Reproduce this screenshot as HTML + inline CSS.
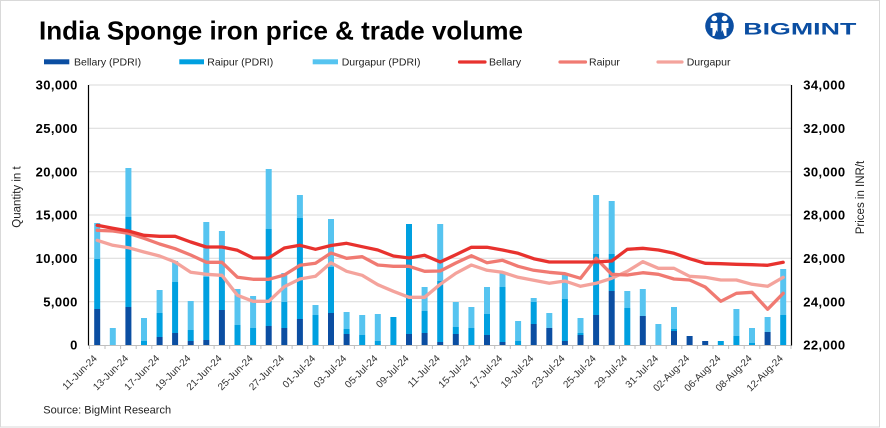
<!DOCTYPE html>
<html><head><meta charset="utf-8"><style>
html,body{margin:0;padding:0;background:#fff;}
body{width:886px;height:428px;overflow:hidden;position:relative;}
svg{position:absolute;left:0;top:0;}
</style></head><body>
<svg width="886" height="428" viewBox="0 0 886 428" xmlns="http://www.w3.org/2000/svg" font-family="'Liberation Sans', Arial, sans-serif">
<rect x="0" y="0" width="886" height="428" fill="#fff"/>
<rect x="0.5" y="0.5" width="879" height="426.5" fill="none" stroke="#d9d9d9" stroke-width="1"/>

<!-- Title -->
<text x="39" y="39.5" font-size="26" font-weight="bold" fill="#000">India Sponge iron price &amp; trade volume</text>

<!-- Logo -->
<ellipse cx="719.5" cy="26" rx="14.3" ry="13.5" fill="#0b4ea2"/>
<circle cx="714.3" cy="18.5" r="2.9" fill="#fff"/>
<circle cx="724.7" cy="18.5" r="2.9" fill="#fff"/>
<path d="M710.5,23 h7 v9 l2,4 l2,-4 v-9 h7 v5 l-2,0 v8 h-2 l-2,-6 l-3,6 l-3,-6 l-2,6 h-2 v-8 l-2,0 z" fill="#fff"/>
<text x="743.3" y="34.5" font-size="16.3" font-weight="bold" fill="#0b4ea2" textLength="113" lengthAdjust="spacingAndGlyphs">BIGMINT</text>

<!-- Legend -->
<g font-size="10.5" fill="#222">
<rect x="44" y="59.3" width="25.3" height="5" fill="#0b4ea2"/>
<text x="74" y="65.5">Bellary (PDRI)</text>
<rect x="179.3" y="59.3" width="24.7" height="5" fill="#00a0e0"/>
<text x="207.3" y="65.5">Raipur (PDRI)</text>
<rect x="312.7" y="59.3" width="25.3" height="5" fill="#56c4f0"/>
<text x="341.7" y="65.5">Durgapur (PDRI)</text>
<line x1="459.5" y1="62" x2="485" y2="62" stroke="#e8322e" stroke-width="3.2" stroke-linecap="round"/>
<text x="489" y="65.5">Bellary</text>
<line x1="560" y1="62" x2="585.5" y2="62" stroke="#f07a72" stroke-width="3.2" stroke-linecap="round"/>
<text x="589" y="65.5">Raipur</text>
<line x1="658" y1="62" x2="682" y2="62" stroke="#f4a39c" stroke-width="3.2" stroke-linecap="round"/>
<text x="686.7" y="65.5">Durgapur</text>
</g>

<!-- Gridlines -->
<g stroke="#d9d9d9" stroke-width="1">
<line x1="89" y1="85" x2="791" y2="85"/>
<line x1="89" y1="128.3" x2="791" y2="128.3"/>
<line x1="89" y1="171.7" x2="791" y2="171.7"/>
<line x1="89" y1="215" x2="791" y2="215"/>
<line x1="89" y1="258.3" x2="791" y2="258.3"/>
<line x1="89" y1="301.7" x2="791" y2="301.7"/>
</g>

<!-- Bars -->
<g>
<g fill="#56c4f0">
<rect x="94.2" y="223" width="6" height="36"/>
<rect x="109.8" y="328" width="6" height="17"/>
<rect x="125.4" y="168" width="6" height="49"/>
<rect x="141.0" y="318" width="6" height="23"/>
<rect x="156.6" y="290" width="6" height="23"/>
<rect x="172.1" y="261" width="6" height="21"/>
<rect x="187.7" y="301" width="6" height="29"/>
<rect x="203.3" y="222" width="6" height="55"/>
<rect x="218.9" y="231" width="6" height="46"/>
<rect x="234.5" y="289" width="6" height="36"/>
<rect x="250.1" y="296" width="6" height="32"/>
<rect x="265.7" y="169" width="6" height="60"/>
<rect x="281.3" y="273" width="6" height="29"/>
<rect x="296.9" y="195" width="6" height="23"/>
<rect x="312.5" y="305" width="6" height="10"/>
<rect x="328.0" y="219" width="6" height="48"/>
<rect x="343.6" y="312" width="6" height="17"/>
<rect x="359.2" y="315" width="6" height="20"/>
<rect x="374.8" y="314" width="6" height="27"/>
<rect x="421.6" y="287" width="6" height="24"/>
<rect x="437.2" y="224" width="6" height="57"/>
<rect x="452.8" y="302" width="6" height="25"/>
<rect x="468.4" y="307" width="6" height="21"/>
<rect x="484.0" y="287" width="6" height="27"/>
<rect x="499.5" y="273" width="6" height="14"/>
<rect x="515.1" y="321" width="6" height="20"/>
<rect x="530.7" y="298" width="6" height="4"/>
<rect x="546.3" y="313" width="6" height="15"/>
<rect x="561.9" y="275" width="6" height="24"/>
<rect x="577.5" y="318" width="6" height="15"/>
<rect x="593.1" y="195" width="6" height="59"/>
<rect x="608.7" y="201" width="6" height="53"/>
<rect x="624.3" y="291" width="6" height="17"/>
<rect x="639.8" y="289" width="6" height="27"/>
<rect x="655.4" y="324" width="6" height="21"/>
<rect x="671.0" y="307" width="6" height="22"/>
<rect x="733.4" y="309" width="6" height="27"/>
<rect x="749.0" y="328" width="6" height="15"/>
<rect x="764.6" y="317" width="6" height="15"/>
<rect x="780.2" y="269" width="6" height="46"/>
</g>
<g fill="#00a0e0">
<rect x="94.2" y="259" width="6" height="50"/>
<rect x="125.4" y="217" width="6" height="90"/>
<rect x="141.0" y="341" width="6" height="4"/>
<rect x="156.6" y="313" width="6" height="24"/>
<rect x="172.1" y="282" width="6" height="51"/>
<rect x="187.7" y="330" width="6" height="11"/>
<rect x="203.3" y="277" width="6" height="63"/>
<rect x="218.9" y="277" width="6" height="33"/>
<rect x="234.5" y="325" width="6" height="20"/>
<rect x="250.1" y="328" width="6" height="17"/>
<rect x="265.7" y="229" width="6" height="97"/>
<rect x="281.3" y="302" width="6" height="26"/>
<rect x="296.9" y="218" width="6" height="101"/>
<rect x="312.5" y="315" width="6" height="30"/>
<rect x="328.0" y="267" width="6" height="46"/>
<rect x="343.6" y="329" width="6" height="5"/>
<rect x="359.2" y="335" width="6" height="10"/>
<rect x="374.8" y="341" width="6" height="4"/>
<rect x="390.4" y="317" width="6" height="28"/>
<rect x="406.0" y="224" width="6" height="110"/>
<rect x="421.6" y="311" width="6" height="22"/>
<rect x="437.2" y="281" width="6" height="61"/>
<rect x="452.8" y="327" width="6" height="7"/>
<rect x="468.4" y="328" width="6" height="17"/>
<rect x="484.0" y="314" width="6" height="21"/>
<rect x="499.5" y="287" width="6" height="55"/>
<rect x="515.1" y="341" width="6" height="4"/>
<rect x="530.7" y="302" width="6" height="22"/>
<rect x="561.9" y="299" width="6" height="42"/>
<rect x="577.5" y="333" width="6" height="2"/>
<rect x="593.1" y="254" width="6" height="61"/>
<rect x="608.7" y="254" width="6" height="37"/>
<rect x="624.3" y="308" width="6" height="37"/>
<rect x="671.0" y="329" width="6" height="2"/>
<rect x="717.8" y="341" width="6" height="4"/>
<rect x="733.4" y="336" width="6" height="9"/>
<rect x="749.0" y="343" width="6" height="2"/>
<rect x="780.2" y="315" width="6" height="30"/>
</g>
<g fill="#0b4ea2">
<rect x="94.2" y="309" width="6" height="36"/>
<rect x="125.4" y="307" width="6" height="38"/>
<rect x="156.6" y="337" width="6" height="8"/>
<rect x="172.1" y="333" width="6" height="12"/>
<rect x="187.7" y="341" width="6" height="4"/>
<rect x="203.3" y="340" width="6" height="5"/>
<rect x="218.9" y="310" width="6" height="35"/>
<rect x="265.7" y="326" width="6" height="19"/>
<rect x="281.3" y="328" width="6" height="17"/>
<rect x="296.9" y="319" width="6" height="26"/>
<rect x="328.0" y="313" width="6" height="32"/>
<rect x="343.6" y="334" width="6" height="11"/>
<rect x="406.0" y="334" width="6" height="11"/>
<rect x="421.6" y="333" width="6" height="12"/>
<rect x="437.2" y="342" width="6" height="3"/>
<rect x="452.8" y="334" width="6" height="11"/>
<rect x="484.0" y="335" width="6" height="10"/>
<rect x="499.5" y="342" width="6" height="3"/>
<rect x="530.7" y="324" width="6" height="21"/>
<rect x="546.3" y="328" width="6" height="17"/>
<rect x="561.9" y="341" width="6" height="4"/>
<rect x="577.5" y="335" width="6" height="10"/>
<rect x="593.1" y="315" width="6" height="30"/>
<rect x="608.7" y="291" width="6" height="54"/>
<rect x="639.8" y="316" width="6" height="29"/>
<rect x="671.0" y="331" width="6" height="14"/>
<rect x="686.6" y="336" width="6" height="9"/>
<rect x="702.2" y="341" width="6" height="4"/>
<rect x="764.6" y="332" width="6" height="13"/>
</g>
</g>

<!-- Lines -->
<g fill="none" stroke-width="3.3" stroke-linejoin="round" stroke-linecap="round">
<polyline stroke="#f4a39c" points="97.2,240.3 112.8,245.3 128.4,247.7 144,252 159.6,256 175.1,262 190.7,272.3 206.3,274.3 221.9,275.3 237.5,295.3 253.1,301.3 268.7,301.3 284.3,286.7 299.9,279 315.5,276.3 331,262.8 346.6,271.3 362.2,275.3 377.8,284.7 393.4,291.3 409,297.3 424.6,297.3 440.2,284.3 455.8,273.3 471.4,265 487,270.3 502.5,272.3 518.1,277.3 533.7,280.3 549.3,283.3 564.9,281 580.5,286.3 596.1,283.3 611.7,278.3 627.3,271.3 642.8,261.7 658.4,268.3 674,268.3 689.6,276.3 705.2,277.3 720.8,280 736.4,280 752,284.3 767.6,286.3 783.2,277.3"/>
<polyline stroke="#f07a72" points="97.2,230.3 112.8,231 128.4,233.3 144,238.3 159.6,244 175.1,248.7 190.7,255 206.3,262.3 221.9,262.3 237.5,277.3 253.1,279.3 268.7,279.3 284.3,275 299.9,265.3 315.5,263.3 331,253 346.6,258.3 362.2,256.7 377.8,265 393.4,266.3 409,266.3 424.6,271.3 440.2,271 455.8,263 471.4,255.7 487,262.7 502.5,260.3 518.1,266.3 533.7,270.3 549.3,272.3 564.9,273.7 580.5,278.3 596.1,258.3 611.7,274.3 627.3,275 642.8,272.7 658.4,274.3 674,279 689.6,280 705.2,287 720.8,301.3 736.4,293.3 752,292.3 767.6,309.3 783.2,293.3"/>
<polyline stroke="#e8322e" points="97.2,225.3 112.8,228.3 128.4,231 144,235.3 159.6,236.3 175.1,236.3 190.7,242 206.3,247 221.9,247 237.5,250.3 253.1,258 268.7,258 284.3,248 299.9,245.3 315.5,249.3 331,245.5 346.6,243.3 362.2,246.7 377.8,250 393.4,256 409,258 424.6,255.3 440.2,262 455.8,254.7 471.4,247.3 487,247.3 502.5,250 518.1,253.3 533.7,258.7 549.3,262 564.9,262 580.5,262 596.1,262 611.7,261 627.3,249.3 642.8,248.3 658.4,250 674,253.3 689.6,258.7 705.2,263.3 720.8,263.7 736.4,264.3 752,264.7 767.6,265.3 783.2,262.3"/>
</g>

<!-- Axes -->
<line x1="89" y1="345.5" x2="791" y2="345.5" stroke="#bfbfbf" stroke-width="1"/>
<g stroke="#bfbfbf" stroke-width="1">
<line x1="89.4" y1="345" x2="89.4" y2="349"/><line x1="105.0" y1="345" x2="105.0" y2="349"/><line x1="120.6" y1="345" x2="120.6" y2="349"/><line x1="136.2" y1="345" x2="136.2" y2="349"/><line x1="151.8" y1="345" x2="151.8" y2="349"/><line x1="167.4" y1="345" x2="167.4" y2="349"/><line x1="182.9" y1="345" x2="182.9" y2="349"/><line x1="198.5" y1="345" x2="198.5" y2="349"/><line x1="214.1" y1="345" x2="214.1" y2="349"/><line x1="229.7" y1="345" x2="229.7" y2="349"/><line x1="245.3" y1="345" x2="245.3" y2="349"/><line x1="260.9" y1="345" x2="260.9" y2="349"/><line x1="276.5" y1="345" x2="276.5" y2="349"/><line x1="292.1" y1="345" x2="292.1" y2="349"/><line x1="307.7" y1="345" x2="307.7" y2="349"/><line x1="323.3" y1="345" x2="323.3" y2="349"/><line x1="338.8" y1="345" x2="338.8" y2="349"/><line x1="354.4" y1="345" x2="354.4" y2="349"/><line x1="370.0" y1="345" x2="370.0" y2="349"/><line x1="385.6" y1="345" x2="385.6" y2="349"/><line x1="401.2" y1="345" x2="401.2" y2="349"/><line x1="416.8" y1="345" x2="416.8" y2="349"/><line x1="432.4" y1="345" x2="432.4" y2="349"/><line x1="448.0" y1="345" x2="448.0" y2="349"/><line x1="463.6" y1="345" x2="463.6" y2="349"/><line x1="479.2" y1="345" x2="479.2" y2="349"/><line x1="494.7" y1="345" x2="494.7" y2="349"/><line x1="510.3" y1="345" x2="510.3" y2="349"/><line x1="525.9" y1="345" x2="525.9" y2="349"/><line x1="541.5" y1="345" x2="541.5" y2="349"/><line x1="557.1" y1="345" x2="557.1" y2="349"/><line x1="572.7" y1="345" x2="572.7" y2="349"/><line x1="588.3" y1="345" x2="588.3" y2="349"/><line x1="603.9" y1="345" x2="603.9" y2="349"/><line x1="619.5" y1="345" x2="619.5" y2="349"/><line x1="635.0" y1="345" x2="635.0" y2="349"/><line x1="650.6" y1="345" x2="650.6" y2="349"/><line x1="666.2" y1="345" x2="666.2" y2="349"/><line x1="681.8" y1="345" x2="681.8" y2="349"/><line x1="697.4" y1="345" x2="697.4" y2="349"/><line x1="713.0" y1="345" x2="713.0" y2="349"/><line x1="728.6" y1="345" x2="728.6" y2="349"/><line x1="744.2" y1="345" x2="744.2" y2="349"/><line x1="759.8" y1="345" x2="759.8" y2="349"/><line x1="775.4" y1="345" x2="775.4" y2="349"/><line x1="791.0" y1="345" x2="791.0" y2="349"/>
</g>
<line x1="88.5" y1="85" x2="88.5" y2="345.5" stroke="#000" stroke-width="1.2"/>
<line x1="791.5" y1="85" x2="791.5" y2="345.5" stroke="#000" stroke-width="1.2"/>

<!-- Left tick labels -->
<g font-size="13" font-weight="bold" fill="#000" text-anchor="end" letter-spacing="0.4">
<text x="77.8" y="89.6">30,000</text>
<text x="77.8" y="132.9">25,000</text>
<text x="77.8" y="176.3">20,000</text>
<text x="77.8" y="219.6">15,000</text>
<text x="77.8" y="262.9">10,000</text>
<text x="77.8" y="306.3">5,000</text>
<text x="77.8" y="349.6">0</text>
</g>
<!-- Right tick labels -->
<g font-size="13" font-weight="bold" fill="#000" letter-spacing="0.4">
<text x="803.3" y="89.6">34,000</text>
<text x="803.3" y="132.9">32,000</text>
<text x="803.3" y="176.3">30,000</text>
<text x="803.3" y="219.6">28,000</text>
<text x="803.3" y="262.9">26,000</text>
<text x="803.3" y="306.3">24,000</text>
<text x="803.3" y="349.6">22,000</text>
</g>

<!-- Axis titles -->
<text transform="translate(20.5,197) rotate(-90)" font-size="11.5" fill="#222" text-anchor="middle">Quantity in t</text>
<text transform="translate(864,197.5) rotate(-90)" font-size="11.5" fill="#222" text-anchor="middle">Prices in INR/t</text>

<!-- X labels -->
<g font-size="10" fill="#333" text-anchor="end">
<text transform="translate(97.7,359) rotate(-45)">11-Jun-24</text>
<text transform="translate(128.9,359) rotate(-45)">13-Jun-24</text>
<text transform="translate(160.1,359) rotate(-45)">17-Jun-24</text>
<text transform="translate(191.2,359) rotate(-45)">19-Jun-24</text>
<text transform="translate(222.4,359) rotate(-45)">21-Jun-24</text>
<text transform="translate(253.6,359) rotate(-45)">25-Jun-24</text>
<text transform="translate(284.8,359) rotate(-45)">27-Jun-24</text>
<text transform="translate(316.0,359) rotate(-45)">01-Jul-24</text>
<text transform="translate(347.1,359) rotate(-45)">03-Jul-24</text>
<text transform="translate(378.3,359) rotate(-45)">05-Jul-24</text>
<text transform="translate(409.5,359) rotate(-45)">09-Jul-24</text>
<text transform="translate(440.7,359) rotate(-45)">11-Jul-24</text>
<text transform="translate(471.9,359) rotate(-45)">15-Jul-24</text>
<text transform="translate(503.0,359) rotate(-45)">17-Jul-24</text>
<text transform="translate(534.2,359) rotate(-45)">19-Jul-24</text>
<text transform="translate(565.4,359) rotate(-45)">23-Jul-24</text>
<text transform="translate(596.6,359) rotate(-45)">25-Jul-24</text>
<text transform="translate(627.8,359) rotate(-45)">29-Jul-24</text>
<text transform="translate(658.9,359) rotate(-45)">31-Jul-24</text>
<text transform="translate(690.1,359) rotate(-45)">02-Aug-24</text>
<text transform="translate(721.3,359) rotate(-45)">06-Aug-24</text>
<text transform="translate(752.5,359) rotate(-45)">08-Aug-24</text>
<text transform="translate(783.7,359) rotate(-45)">12-Aug-24</text>
</g>

<!-- Source -->
<text x="43.3" y="413.5" font-size="11" fill="#222">Source: BigMint Research</text>
</svg>
</body></html>
